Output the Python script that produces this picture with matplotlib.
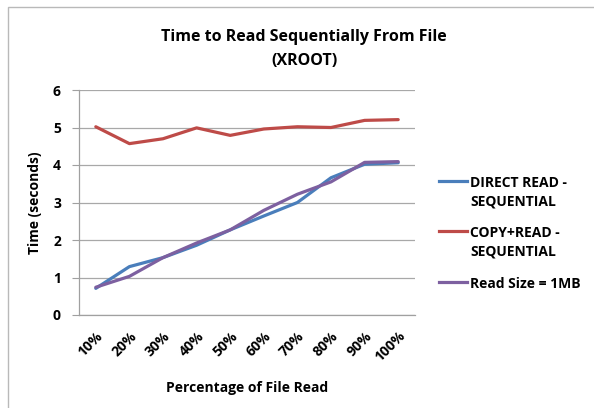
import matplotlib.pyplot as plt
from matplotlib.lines import Line2D
from matplotlib.patches import Rectangle

# data
categories = ["10%", "20%", "30%", "40%", "50%", "60%", "70%", "80%", "90%", "100%"]
direct_read = [0.71, 1.29, 1.53, 1.86, 2.27, 2.64, 3.00, 3.66, 4.02, 4.06]
copy_read = [5.02, 4.57, 4.70, 4.99, 4.79, 4.96, 5.02, 5.00, 5.19, 5.21]
read_1mb = [0.74, 1.03, 1.53, 1.92, 2.27, 2.79, 3.22, 3.55, 4.07, 4.09]
series_labels = ["DIRECT READ -\nSEQUENTIAL", "COPY+READ -\nSEQUENTIAL", "Read Size = 1MB"]
y_ticks = [0, 1, 2, 3, 4, 5, 6]

FONT = ["Open Sans", "DejaVu Sans"]
plt.rcParams["font.family"] = FONT

W, H = 594, 408
fig = plt.figure(figsize=(W / 100, H / 100), dpi=100)
fig.patch.set_facecolor("white")


def fx(px):
    return px / W


def fy(py):
    # pixel rows counted from the top
    return 1 - py / H


# chart frame (right and bottom edges fall outside the image)
fig.add_artist(Rectangle((fx(8), -0.05), 1.0, fy(7) + 0.05,
                         transform=fig.transFigure, fill=False,
                         edgecolor="#b9b9b9", linewidth=1.0))

ax = fig.add_axes([fx(79), fy(315), fx(336), (315 - 90) / H])
x = range(len(categories))
colors = ["#4a7ebb", "#be4b48", "#7d60a0"]
for vals, c in zip([direct_read, copy_read, read_1mb], colors):
    ax.plot(x, vals, color=c, linewidth=2.3, solid_capstyle="round")

ax.set_xlim(-0.5, len(categories) - 0.5)
ax.set_ylim(0, 6)
ax.set_yticks(y_ticks)
ax.set_yticklabels([str(t) for t in y_ticks], fontsize=10, fontweight="bold")
ax.set_xticks(list(x))
ax.set_xticklabels(categories, rotation=45, ha="right", rotation_mode="anchor",
                   fontsize=10, fontweight="bold")
ax.tick_params(axis="y", length=5, color="#a0a0a0", pad=8)
ax.tick_params(axis="x", length=0, pad=10)
ax.grid(axis="y", color="#a8a8a8", linewidth=0.9)
ax.set_axisbelow(True)
for s in ["top", "right"]:
    ax.spines[s].set_visible(False)
for s in ["left", "bottom"]:
    ax.spines[s].set_color("#a0a0a0")
    ax.spines[s].set_linewidth(0.9)

ax.set_ylabel("Time (seconds)", fontsize=10, fontweight="bold", labelpad=8)
ax.set_xlabel("Percentage of File Read", fontsize=10, fontweight="bold", labelpad=12)

# title is centred on the whole chart area, not the plot area
fig.text(fx(304), fy(41), "Time to Read Sequentially From File",
         ha="center", va="baseline", fontsize=11.5, fontweight="bold")
fig.text(fx(304), fy(65), "(XROOT)",
         ha="center", va="baseline", fontsize=11.5, fontweight="bold")

# legend drawn by hand: the handle sits level with the first text line
legend_rows = [181, 231, 282]
for lab, c, row in zip(series_labels, colors, legend_rows):
    fig.add_artist(Line2D([fx(439), fx(467)], [fy(row), fy(row)],
                          transform=fig.transFigure, color=c, linewidth=2.3))
    for i, line in enumerate(lab.split("\n")):
        fig.text(fx(470), fy(row + 6 + i * 18), line, ha="left", va="baseline",
                 fontsize=10, fontweight="bold")

fig.savefig("out.png", dpi=100)
